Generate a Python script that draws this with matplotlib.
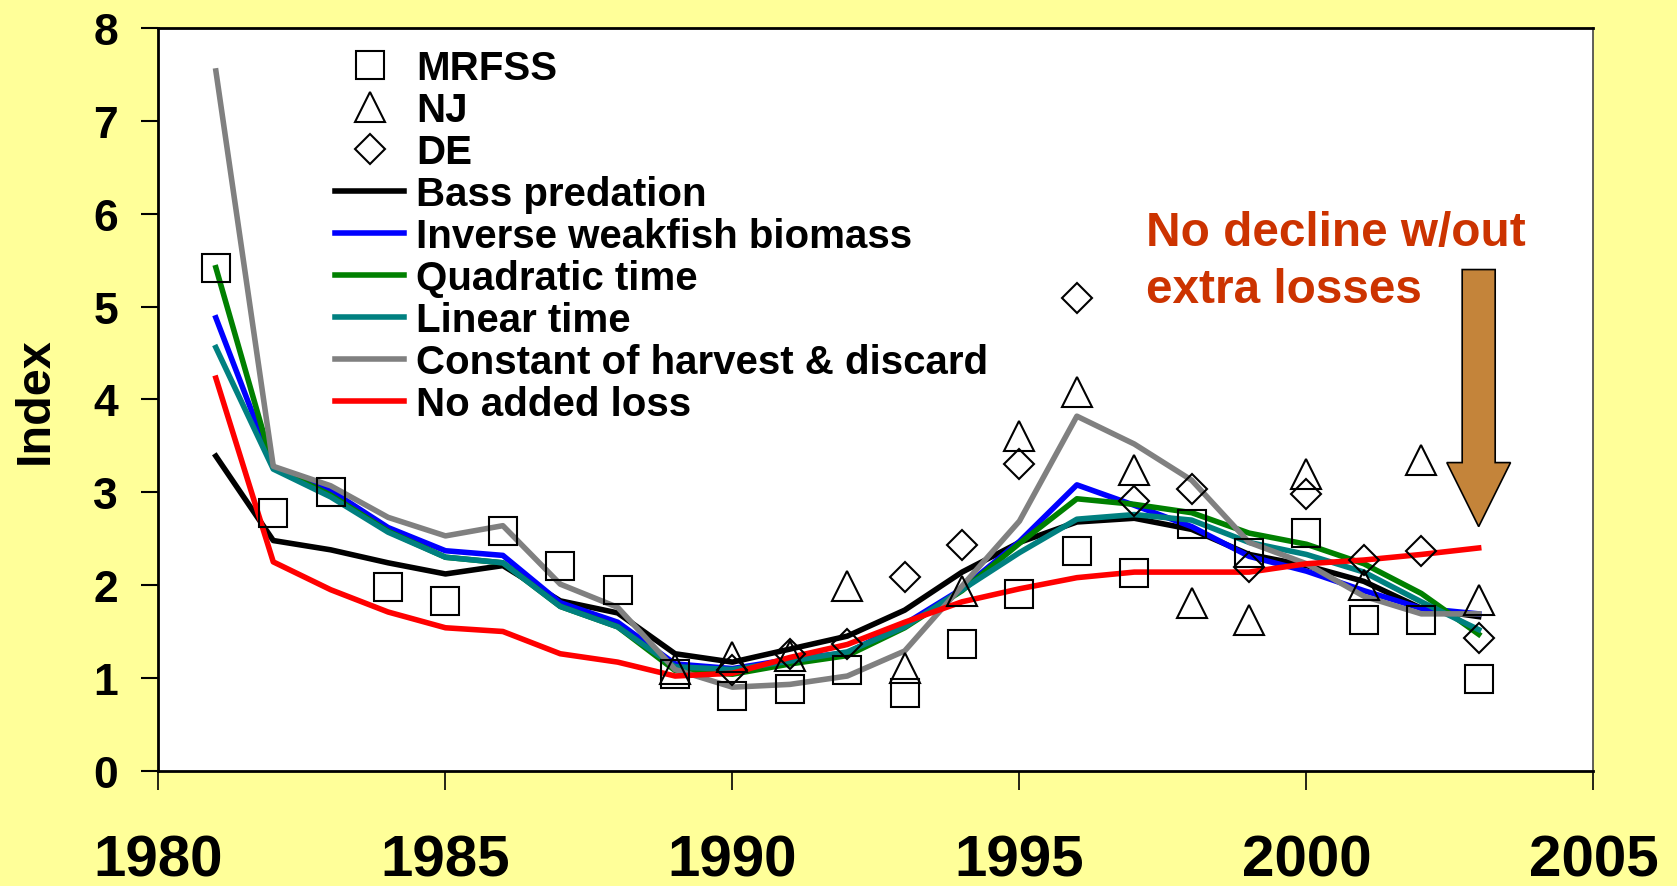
import matplotlib
matplotlib.use("Agg")
import matplotlib.pyplot as plt
from matplotlib.patches import FancyArrow

plt.rcParams['font.family'] = ['Liberation Sans', 'DejaVu Sans']
plt.rcParams['font.weight'] = 'bold'

years = list(range(1981, 2004))

# survey indices
mrfss = [5.42, 2.78, 3.00, 1.98, 1.83, 2.58, 2.21, 1.95, 1.04, 0.81, 0.88, 1.08,
         0.84, 1.36, 1.90, 2.37, 2.13, 2.66, 2.35, 2.56, 1.62, 1.62, 0.99]
nj_years = list(range(1989, 2004))
nj = [1.10, 1.22, 1.24, 1.99, 1.11, 1.94, 3.61, 4.08, 3.24, 1.81, 1.62, 3.20,
      2.00, 3.35, 1.84]
de_years = list(range(1990, 2004))
de = [1.09, 1.26, 1.37, 2.09, 2.43, 3.30, 5.09, 2.91, 3.04, 2.20, 2.98, 2.27,
      2.37, 1.43]

# model fits
bass = [3.39, 2.48, 2.38, 2.24, 2.12, 2.21, 1.83, 1.70, 1.26, 1.17, 1.31, 1.45,
        1.73, 2.14, 2.46, 2.68, 2.72, 2.60, 2.33, 2.21, 2.04, 1.75, 1.66]
inv_weakfish = [4.88, 3.27, 3.02, 2.62, 2.37, 2.32, 1.81, 1.60, 1.15, 1.10, 1.20,
                1.27, 1.58, 1.96, 2.47, 3.08, 2.86, 2.63, 2.31, 2.15, 1.94, 1.75, 1.69]
quad_time = [5.42, 3.27, 2.97, 2.58, 2.30, 2.24, 1.77, 1.55, 1.08, 1.04, 1.15,
             1.24, 1.54, 1.94, 2.45, 2.93, 2.87, 2.78, 2.56, 2.44, 2.23, 1.91, 1.47]
lin_time = [4.56, 3.25, 2.95, 2.57, 2.30, 2.24, 1.77, 1.55, 1.12, 1.09, 1.18,
            1.28, 1.55, 1.95, 2.35, 2.71, 2.76, 2.70, 2.46, 2.33, 2.14, 1.82, 1.52]
const_harvest = [7.54, 3.28, 3.07, 2.73, 2.53, 2.64, 2.01, 1.76, 1.09, 0.90, 0.93,
                 1.02, 1.29, 1.99, 2.69, 3.82, 3.52, 3.13, 2.46, 2.23, 1.88, 1.69, 1.69]
no_loss = [4.23, 2.25, 1.95, 1.71, 1.54, 1.50, 1.26, 1.17, 1.02, 1.05, 1.22, 1.36,
           1.60, 1.82, 1.96, 2.08, 2.14, 2.14, 2.14, 2.23, 2.27, 2.33, 2.40]

fig = plt.figure(figsize=(16.77, 8.87), dpi=100, facecolor='#FFFF99')
ax = fig.add_axes([0.0945, 0.130, 0.8557, 0.837])
ax.set_facecolor('white')

mk = dict(linestyle='none', markerfacecolor='none', markeredgecolor='black',
          markeredgewidth=1.5, zorder=5)
ax.plot(years, mrfss, marker='s', markersize=20, label='MRFSS', **mk)
ax.plot(nj_years, nj, marker='^', markersize=21, label='NJ', **mk)
ax.plot(de_years, de, marker='D', markersize=15, label='DE', **mk)

lw = 4
ax.plot(years, bass, color='black', lw=lw, label='Bass predation')
ax.plot(years, inv_weakfish, color='#0000FF', lw=lw, label='Inverse weakfish biomass')
ax.plot(years, quad_time, color='#008000', lw=lw, label='Quadratic time')
ax.plot(years, lin_time, color='#008080', lw=lw, label='Linear time')
ax.plot(years, const_harvest, color='#808080', lw=lw, label='Constant of harvest & discard')
ax.plot(years, no_loss, color='#FF0000', lw=lw, label='No added loss')

ax.set_xlim(1980, 2005)
ax.set_ylim(0, 8)
ax.set_xticks(range(1980, 2006, 5))
ax.set_yticks(range(0, 9))
ax.tick_params(axis='x', direction='out', length=14, width=1.2, pad=31, labelsize=42)
ax.tick_params(axis='y', direction='out', length=12, width=1.5, pad=17, labelsize=32)
for s in ax.spines.values():
    s.set_linewidth(2)
ax.spines['right'].set_color('#444444')
ax.spines['right'].set_linewidth(1.2)
ax.set_ylabel('Index', fontsize=35, fontweight='bold', labelpad=26)

leg = ax.legend(loc='upper left', bbox_to_anchor=(0.112, 0.994), frameon=False,
                fontsize=29, handlelength=1.71, handletextpad=0.29,
                labelspacing=0.10, borderaxespad=0)

ax.text(1997.21, 5.49, 'No decline w/out\nextra losses', color='#CC3300',
        fontsize=34.4, ha='left', va='center', linespacing=1.33)

ax.add_patch(FancyArrow(2003, 5.40, 0, 2.63 - 5.40, width=0.575, head_width=1.11,
                        head_length=0.69, length_includes_head=True,
                        facecolor='#C4843A', edgecolor='black', lw=1.2, zorder=6))

fig.savefig('out.png', dpi=100, facecolor=fig.get_facecolor())
